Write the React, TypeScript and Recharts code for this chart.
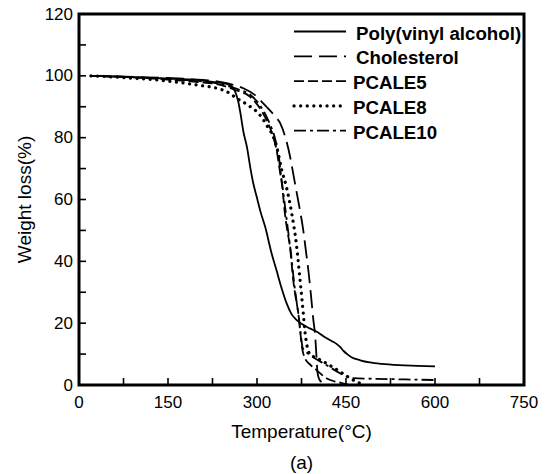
import React from 'react';
import { LineChart, Line, XAxis, YAxis, Legend, ReferenceArea } from 'recharts';

const FONT = '"Liberation Sans", Arial, Helvetica, sans-serif';

// Tick values
const xTicks = [0, 75, 150, 225, 300, 375, 450, 525, 600, 675, 750];
const xLabels = [0, 150, 300, 450, 600, 750];
const yTicks = [0, 10, 20, 30, 40, 50, 60, 70, 80, 90, 100, 110, 120];
const yLabels = [0, 20, 40, 60, 80, 100, 120];

// Series data: t = temperature (°C), w = weight (%)
const pva = [
  { t: 20, w: 100 }, { t: 60, w: 99.8 }, { t: 100, w: 99.5 }, { t: 150, w: 99.1 },
  { t: 200, w: 98.6 }, { t: 235, w: 97.8 }, { t: 250, w: 97.3 }, { t: 258, w: 96.5 },
  { t: 263, w: 95 }, { t: 268, w: 92 }, { t: 272, w: 88 }, { t: 277, w: 82 },
  { t: 283, w: 77 }, { t: 289, w: 70 }, { t: 294, w: 65 }, { t: 300, w: 60.5 },
  { t: 306, w: 56 }, { t: 314, w: 51 }, { t: 324, w: 43 }, { t: 333, w: 37 },
  { t: 342, w: 31 }, { t: 350, w: 26.4 }, { t: 358, w: 23 }, { t: 367, w: 21 },
  { t: 375, w: 19.8 }, { t: 389, w: 18.3 }, { t: 400, w: 17.3 }, { t: 412, w: 15.8 },
  { t: 425, w: 14.3 }, { t: 434, w: 13.3 }, { t: 440, w: 12.3 }, { t: 446, w: 11 },
  { t: 452, w: 10 }, { t: 460, w: 8.9 }, { t: 474, w: 8 }, { t: 490, w: 7.3 },
  { t: 510, w: 6.8 }, { t: 540, w: 6.4 }, { t: 570, w: 6.2 }, { t: 600, w: 6.0 },
];

const cholesterol = [
  { t: 20, w: 100 }, { t: 100, w: 99.6 }, { t: 150, w: 99.3 }, { t: 200, w: 98.8 },
  { t: 240, w: 98 }, { t: 262, w: 97 }, { t: 277, w: 96 }, { t: 295, w: 94 },
  { t: 316, w: 90 }, { t: 330, w: 87 }, { t: 339, w: 84.7 }, { t: 348, w: 80 },
  { t: 355.6, w: 74 }, { t: 360, w: 69.5 }, { t: 364, w: 65.2 }, { t: 371, w: 58 },
  { t: 378, w: 50 }, { t: 382, w: 44 }, { t: 386.5, w: 37.2 }, { t: 391, w: 29 },
  { t: 395, w: 21 }, { t: 398, w: 16 }, { t: 400, w: 10 }, { t: 402, w: 4 },
  { t: 406, w: 1.5 }, { t: 415, w: 0.4 }, { t: 425, w: 0 },
];

const pcale5 = [
  { t: 20, w: 100 }, { t: 100, w: 99.4 }, { t: 150, w: 98.8 }, { t: 200, w: 98 },
  { t: 240, w: 97 }, { t: 262, w: 95.5 }, { t: 288, w: 93.3 }, { t: 305, w: 89.5 },
  { t: 316, w: 85.7 }, { t: 326, w: 81 }, { t: 333, w: 76 }, { t: 339, w: 68.6 },
  { t: 342, w: 65 }, { t: 347, w: 55.5 }, { t: 351, w: 50 }, { t: 355.6, w: 44.7 },
  { t: 361, w: 34 }, { t: 365, w: 28.5 }, { t: 369.6, w: 23.2 }, { t: 373, w: 17 },
  { t: 376, w: 12 }, { t: 380, w: 9 }, { t: 390, w: 6.5 }, { t: 400, w: 4.9 },
  { t: 410, w: 3.2 }, { t: 417, w: 2.2 }, { t: 430, w: 1.2 }, { t: 440, w: 0.8 },
  { t: 455, w: 0 },
];

const pcale8 = [
  { t: 20, w: 100 }, { t: 60, w: 99.6 }, { t: 100, w: 99.1 }, { t: 150, w: 98.3 },
  { t: 200, w: 97 }, { t: 232, w: 96 }, { t: 250, w: 94.8 }, { t: 266, w: 92.7 },
  { t: 285, w: 90.5 }, { t: 305, w: 87.3 }, { t: 318, w: 83.5 }, { t: 327.5, w: 80.3 },
  { t: 335, w: 75.5 }, { t: 341.6, w: 69.6 }, { t: 349, w: 64.5 }, { t: 358.5, w: 55.5 },
  { t: 366.9, w: 44.7 }, { t: 372.5, w: 34 }, { t: 378, w: 23.2 }, { t: 381, w: 17 },
  { t: 384, w: 13 }, { t: 389, w: 10 }, { t: 400, w: 8.8 }, { t: 417, w: 7 },
  { t: 430, w: 5.5 }, { t: 440, w: 4.3 }, { t: 450, w: 3 }, { t: 457, w: 2.2 },
  { t: 466, w: 1.2 }, { t: 474, w: 0.5 }, { t: 480, w: 0 },
];

const pcale10 = [
  { t: 20, w: 100 }, { t: 100, w: 99.5 }, { t: 150, w: 99 }, { t: 200, w: 98.3 },
  { t: 240, w: 97.3 }, { t: 262, w: 96 }, { t: 289, w: 93.8 }, { t: 305, w: 90.5 },
  { t: 318, w: 86 }, { t: 330, w: 80 }, { t: 336, w: 75 }, { t: 341, w: 67 },
  { t: 344.5, w: 62 }, { t: 349, w: 55 }, { t: 353, w: 49 }, { t: 357.6, w: 42 },
  { t: 362, w: 34 }, { t: 366, w: 28 }, { t: 371, w: 21 }, { t: 374, w: 16 },
  { t: 377, w: 12 }, { t: 384, w: 10.5 }, { t: 395, w: 9 }, { t: 412, w: 7 },
  { t: 425, w: 5.5 }, { t: 440, w: 3.8 }, { t: 452, w: 2.7 }, { t: 462, w: 2.2 },
  { t: 500, w: 2 }, { t: 550, w: 1.8 }, { t: 600, w: 1.6 },
];

const series = [
  { name: 'Poly(vinyl alcohol)', data: pva, dash: undefined as string | undefined, width: 1.8, cap: 'butt' },
  { name: 'Cholesterol', data: cholesterol, dash: '18 7', width: 1.8, cap: 'butt' },
  { name: 'PCALE5', data: pcale5, dash: '10 4', width: 1.8, cap: 'butt' },
  { name: 'PCALE8', data: pcale8, dash: '0.1 6.5', width: 3.2, cap: 'round' },
  { name: 'PCALE10', data: pcale10, dash: '12 4 3 4', width: 1.8, cap: 'butt' },
];

const XTick = (props: any) => {
  const { x, y, payload } = props;
  const v = payload.value;
  return (
    <g>
      <line x1={x} x2={x} y1={y} y2={y - 7} stroke="#000" strokeWidth={1.6} />
      {xLabels.includes(v) && (
        <text x={x} y={y + 17} textAnchor="middle" dominantBaseline="central" fontSize={17} fill="#000" fontFamily={FONT}>
          {v}
        </text>
      )}
    </g>
  );
};

const YTick = (props: any) => {
  const { x, y, payload } = props;
  const v = payload.value;
  return (
    <g>
      <line x1={x} x2={x + 7} y1={y} y2={y} stroke="#000" strokeWidth={1.6} />
      {yLabels.includes(v) && (
        <text x={x - 6} y={y} textAnchor="end" dominantBaseline="central" fontSize={17} fill="#000" fontFamily={FONT}>
          {v}
        </text>
      )}
    </g>
  );
};

const XTitle = (props: any) => {
  const vb = props.viewBox || { x: 79, y: 385, width: 445, height: 89 };
  const cx = vb.x + vb.width / 2;
  return (
    <g>
      <text x={cx} y={vb.y + 46} textAnchor="middle" dominantBaseline="central" fontSize={19} fill="#000" fontFamily={FONT}>
        Temperature(°C)
      </text>
      <text x={cx} y={vb.y + 77.5} textAnchor="middle" dominantBaseline="central" fontSize={19} fill="#000" fontFamily={FONT}>
        (a)
      </text>
    </g>
  );
};

const YTitle = (props: any) => {
  const vb = props.viewBox || { x: 0, y: 14, width: 79, height: 371 };
  const cy = vb.y + vb.height / 2;
  const cx = 24;
  return (
    <text x={cx} y={cy} transform={`rotate(-90 ${cx} ${cy})`} textAnchor="middle" dominantBaseline="central" fontSize={19} fill="#000" fontFamily={FONT}>
      Weight loss(%)
    </text>
  );
};

const LegendBox = () => (
  <svg width={250} height={125} style={{ display: 'block' }}>
    {series.map((s, i) => {
      const cy = 15 + i * 24.8;
      return (
        <g key={s.name}>
          <line x1={4} x2={56} y1={cy - 1.5} y2={cy - 1.5} stroke="#000" strokeWidth={s.width} strokeDasharray={s.dash} strokeLinecap={s.cap as any} />
          <text x={i < 2 ? 66 : 63} y={cy} dominantBaseline="central" fontSize={18.7} fontWeight="bold" fill="#000" fontFamily={FONT}>
            {s.name}
          </text>
        </g>
      );
    })}
  </svg>
);

export default function App() {
  return (
    <div style={{ position: 'absolute', left: 0, top: 0, fontFamily: FONT, background: '#fff' }}>
      <LineChart width={547} height={474} margin={{ top: 14, right: 23, bottom: 0, left: 0 }}>
        <XAxis
          dataKey="t"
          type="number"
          domain={[0, 750]}
          ticks={xTicks}
          interval={0}
          height={89}
          tickSize={0}
          tickMargin={0}
          tickLine={false}
          axisLine={false}
          tick={<XTick />}
          allowDataOverflow
          label={<XTitle />}
        />
        <YAxis
          type="number"
          domain={[0, 120]}
          ticks={yTicks}
          interval={0}
          width={79}
          tickSize={0}
          tickMargin={0}
          tickLine={false}
          axisLine={false}
          tick={<YTick />}
          allowDataOverflow
          label={<YTitle />}
        />
        <ReferenceArea
          x1={0}
          x2={750}
          y1={0}
          y2={120}
          fill="none"
          fillOpacity={0}
          stroke="#000"
          strokeWidth={3}
          strokeOpacity={1}
          ifOverflow="visible"
        />
        {series.map((s) => (
          <Line
            key={s.name}
            name={s.name}
            data={s.data}
            dataKey="w"
            type="monotone"
            stroke="#000"
            strokeWidth={s.width}
            strokeDasharray={s.dash}
            strokeLinecap={s.cap as any}
            dot={false}
            activeDot={false}
            isAnimationActive={false}
          />
        ))}
        <Legend
          layout="horizontal"
          verticalAlign="middle"
          align="center"
          wrapperStyle={{ left: 290, top: 18, width: 250, height: 125 }}
          content={() => <LegendBox />}
        />
      </LineChart>
    </div>
  );
}
